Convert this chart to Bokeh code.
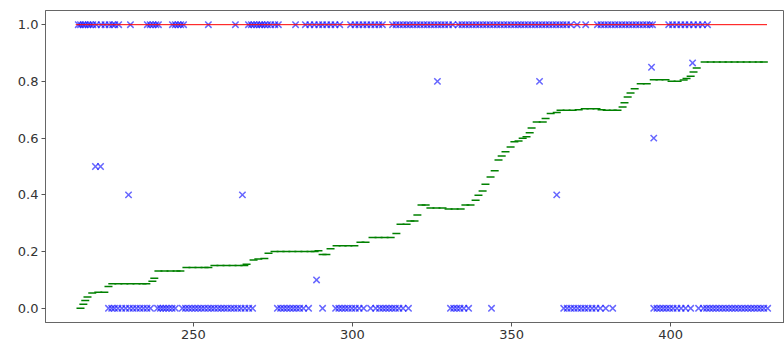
from bokeh.plotting import figure
from bokeh.models import FixedTicker, PrintfTickFormatter, Range1d
from bokeh.embed import file_html
from bokeh.resources import INLINE

# observations with outcome 1
x_one = [213.8, 214.5, 215.3, 216.0, 216.9, 217.6, 218.4, 219.5,
         221.0, 222.2, 223.5, 224.6, 225.3, 226.5, 230.2,
         235.5, 236.4, 237.3, 238.2, 239.0,
         243.4, 244.3, 245.2, 246.0, 246.9, 254.7, 263.2,
         267.3, 268.2, 269.0, 269.9, 270.8, 271.5, 272.4, 273.3, 274.3, 275.6, 276.7,
         282.1,
         285.2, 286.6, 288.0, 289.4, 290.6, 291.9, 293.2, 294.5, 296.0,
         299.4, 300.8, 302.0, 303.3, 304.5, 305.8, 307.0, 308.3, 309.4,
         312.6, 313.7, 314.8, 315.9, 317.0, 318.0, 319.1, 320.2, 321.3, 322.4,
         323.5, 324.6, 325.7, 326.8, 327.9, 329.0, 330.2, 331.5,
         333.3, 334.4, 335.5, 336.6, 337.7, 338.8, 339.9, 341.0, 342.1, 343.2,
         344.3, 345.4, 346.5, 347.6, 348.7, 349.8, 350.9, 352.0,
         353.0, 354.1, 355.2, 356.3, 357.4, 358.5, 359.6, 360.7, 361.8, 362.9,
         364.0, 365.1, 366.2, 367.3, 368.6, 370.6, 373.3,
         377.0, 378.1, 379.2, 380.3, 381.4, 382.5, 383.6, 384.7, 385.8, 386.9,
         388.0, 389.1, 390.2, 391.3, 392.4, 393.5, 394.3,
         399.4, 400.6, 401.9, 403.2, 404.5, 405.8, 407.2, 408.6, 410.0, 411.6]
y_one = [1.0] * len(x_one)

# observations with outcome 0
x_zero = [223.3, 224.3, 225.2, 226.3, 227.5, 228.7, 229.9, 231.0, 232.1, 233.2, 234.3, 235.4, 236.5,
          238.7, 239.6, 240.5, 241.4, 242.3, 243.3, 244.3,
          246.5, 247.5, 248.5, 249.5, 250.5, 251.5, 252.5, 253.5, 254.6, 255.6, 256.6,
          257.7, 258.7, 259.7, 260.7, 261.8, 262.8, 263.9, 265.0, 266.2, 267.4, 268.6,
          276.4, 277.4, 278.4, 279.4, 280.4, 281.4, 282.4, 283.4, 284.6, 286.2,
          290.6,
          294.7, 295.7, 296.7, 297.7, 298.7, 299.8, 300.9, 302.1, 303.5,
          305.7, 307.3, 308.5, 309.5, 310.5, 311.5, 312.5, 313.5, 314.6, 315.9, 317.6,
          330.8, 331.8, 332.8, 333.8, 335.0, 336.5, 343.7,
          366.4, 367.5, 368.6, 369.7, 370.8, 371.9, 373.0, 374.1, 375.3, 376.5, 377.9, 379.6,
          381.8,
          394.7, 395.7, 396.7, 397.7, 398.7, 399.7, 400.8, 402.0, 403.3, 404.7, 406.3,
          408.8, 410.3, 411.3, 412.3, 413.3, 414.3, 415.3, 416.3, 417.3, 418.3, 419.3,
          420.3, 421.3, 422.3, 423.3, 424.3, 425.3, 426.3, 427.3, 428.3, 429.3, 430.5]
y_zero = [0.0] * len(x_zero)

# observations with intermediate values
x_mid = [219.2, 220.8, 229.6, 265.4, 288.7, 326.7, 358.8, 364.2, 394.0, 394.7, 406.9]
y_mid = [0.5, 0.5, 0.4, 0.4, 0.1, 0.8, 0.8, 0.4, 0.85, 0.6, 0.865]

# fitted curve (green dashes)
fit_x = [214.5, 215.4, 216.0, 216.7, 218.2, 220.1, 222.0, 223.3, 224.5, 226.4, 228.3, 230.2,
         232.1, 234.0, 235.2, 237.1, 237.7, 239.0, 240.9, 242.8, 244.7, 245.9, 247.8, 249.7,
         251.6, 253.5, 254.7, 256.6, 258.5, 260.4, 262.3, 264.2, 266.0, 266.7, 268.9, 270.4,
         272.3, 273.6, 275.5, 277.4, 279.2, 281.1, 283.0, 284.9, 286.8, 288.1, 289.3, 290.6,
         291.8, 293.1, 295.0, 296.9, 298.7, 300.6, 302.5, 304.1, 306.3, 308.2, 310.1, 312.0,
         313.8, 315.1, 317.0, 318.2, 319.5, 320.4, 321.7, 323.0, 324.5, 326.4, 328.3, 330.2,
         332.1, 334.0, 335.5, 337.1, 338.7, 339.6, 340.9, 341.8, 343.4, 344.7, 345.9, 346.9,
         348.1, 349.7, 350.9, 352.2, 353.5, 354.7, 355.7, 356.3, 357.9, 359.8, 360.7, 362.3,
         364.2, 365.4, 367.3, 369.2, 371.1, 373.0, 374.8, 376.7, 378.3, 379.9, 381.8, 383.3,
         384.9, 385.5, 386.5, 387.4, 388.7, 390.6, 392.5, 394.7, 396.5, 398.4, 400.3, 402.2,
         404.1, 405.0, 406.3, 407.2, 408.2, 410.7, 412.6, 414.5, 416.4, 418.2, 420.1, 422.0,
         423.9, 425.8, 427.7, 429.3]
fit_y = [0.0, 0.014, 0.028, 0.04, 0.054, 0.057, 0.057, 0.077, 0.087, 0.087, 0.087, 0.087,
         0.087, 0.087, 0.087, 0.095, 0.106, 0.132, 0.132, 0.132, 0.132, 0.132, 0.144, 0.144,
         0.144, 0.144, 0.144, 0.151, 0.151, 0.151, 0.151, 0.151, 0.151, 0.155, 0.17, 0.174,
         0.176, 0.194, 0.2, 0.2, 0.2, 0.2, 0.2, 0.2, 0.2, 0.2, 0.203, 0.19,
         0.19, 0.21, 0.221, 0.221, 0.221, 0.221, 0.233, 0.233, 0.25, 0.25, 0.25, 0.25,
         0.264, 0.296, 0.296, 0.308, 0.308, 0.329, 0.364, 0.364, 0.354, 0.354, 0.354, 0.35,
         0.35, 0.35, 0.364, 0.364, 0.381, 0.399, 0.414, 0.437, 0.463, 0.485, 0.523, 0.537,
         0.552, 0.569, 0.587, 0.59, 0.60, 0.605, 0.619, 0.636, 0.657, 0.657, 0.669, 0.687,
         0.69, 0.698, 0.698, 0.698, 0.70, 0.704, 0.704, 0.704, 0.70, 0.698, 0.698, 0.698,
         0.71, 0.725, 0.745, 0.759, 0.774, 0.792, 0.792, 0.806, 0.806, 0.806, 0.801, 0.801,
         0.805, 0.81, 0.818, 0.833, 0.847, 0.868, 0.868, 0.868, 0.868, 0.868, 0.868, 0.868,
         0.868, 0.868, 0.868, 0.868]

# reference line
ref_x = [213.0, 430.3]
ref_y = [1.0, 1.0]

x_ticks = [250, 300, 350, 400]
y_ticks = [0.0, 0.2, 0.4, 0.6, 0.8, 1.0]

p = figure(width=784, height=344, output_backend="svg", toolbar_location=None,
           x_range=Range1d(203.5, 435.8), y_range=Range1d(-0.05, 1.05),
           min_border_left=45, min_border_right=0, min_border_top=10, min_border_bottom=22)
p.background_fill_color = "white"
p.border_fill_color = "white"
p.outline_line_color = "#666666"
p.outline_line_width = 1
p.grid.visible = False

blue_x = x_one + x_zero + x_mid
blue_y = y_one + y_zero + y_mid
p.scatter(blue_x, blue_y, marker="x", size=9, line_color="blue", line_alpha=0.6, line_width=1.5)
p.line(ref_x, ref_y, line_color="red", line_width=1)
p.scatter(fit_x, fit_y, marker="dash", size=8, line_color="green", line_width=1.5)

for ax in (p.xaxis[0], p.yaxis[0]):
    ax.axis_line_color = "#666666"
    ax.major_tick_line_color = "#555555"
    ax.major_tick_out = 4
    ax.major_tick_in = 0
    ax.minor_tick_out = 0
    ax.minor_tick_in = 0
    ax.major_label_text_font = "DejaVu Sans"
    ax.major_label_text_font_size = "13px"
    ax.major_label_text_color = "#333333"
    ax.major_label_standoff = 3

p.xaxis[0].ticker = FixedTicker(ticks=x_ticks)
p.yaxis[0].ticker = FixedTicker(ticks=y_ticks)
p.yaxis[0].formatter = PrintfTickFormatter(format="%.1f")

open("out.html", "w").write(file_html(p, INLINE))
